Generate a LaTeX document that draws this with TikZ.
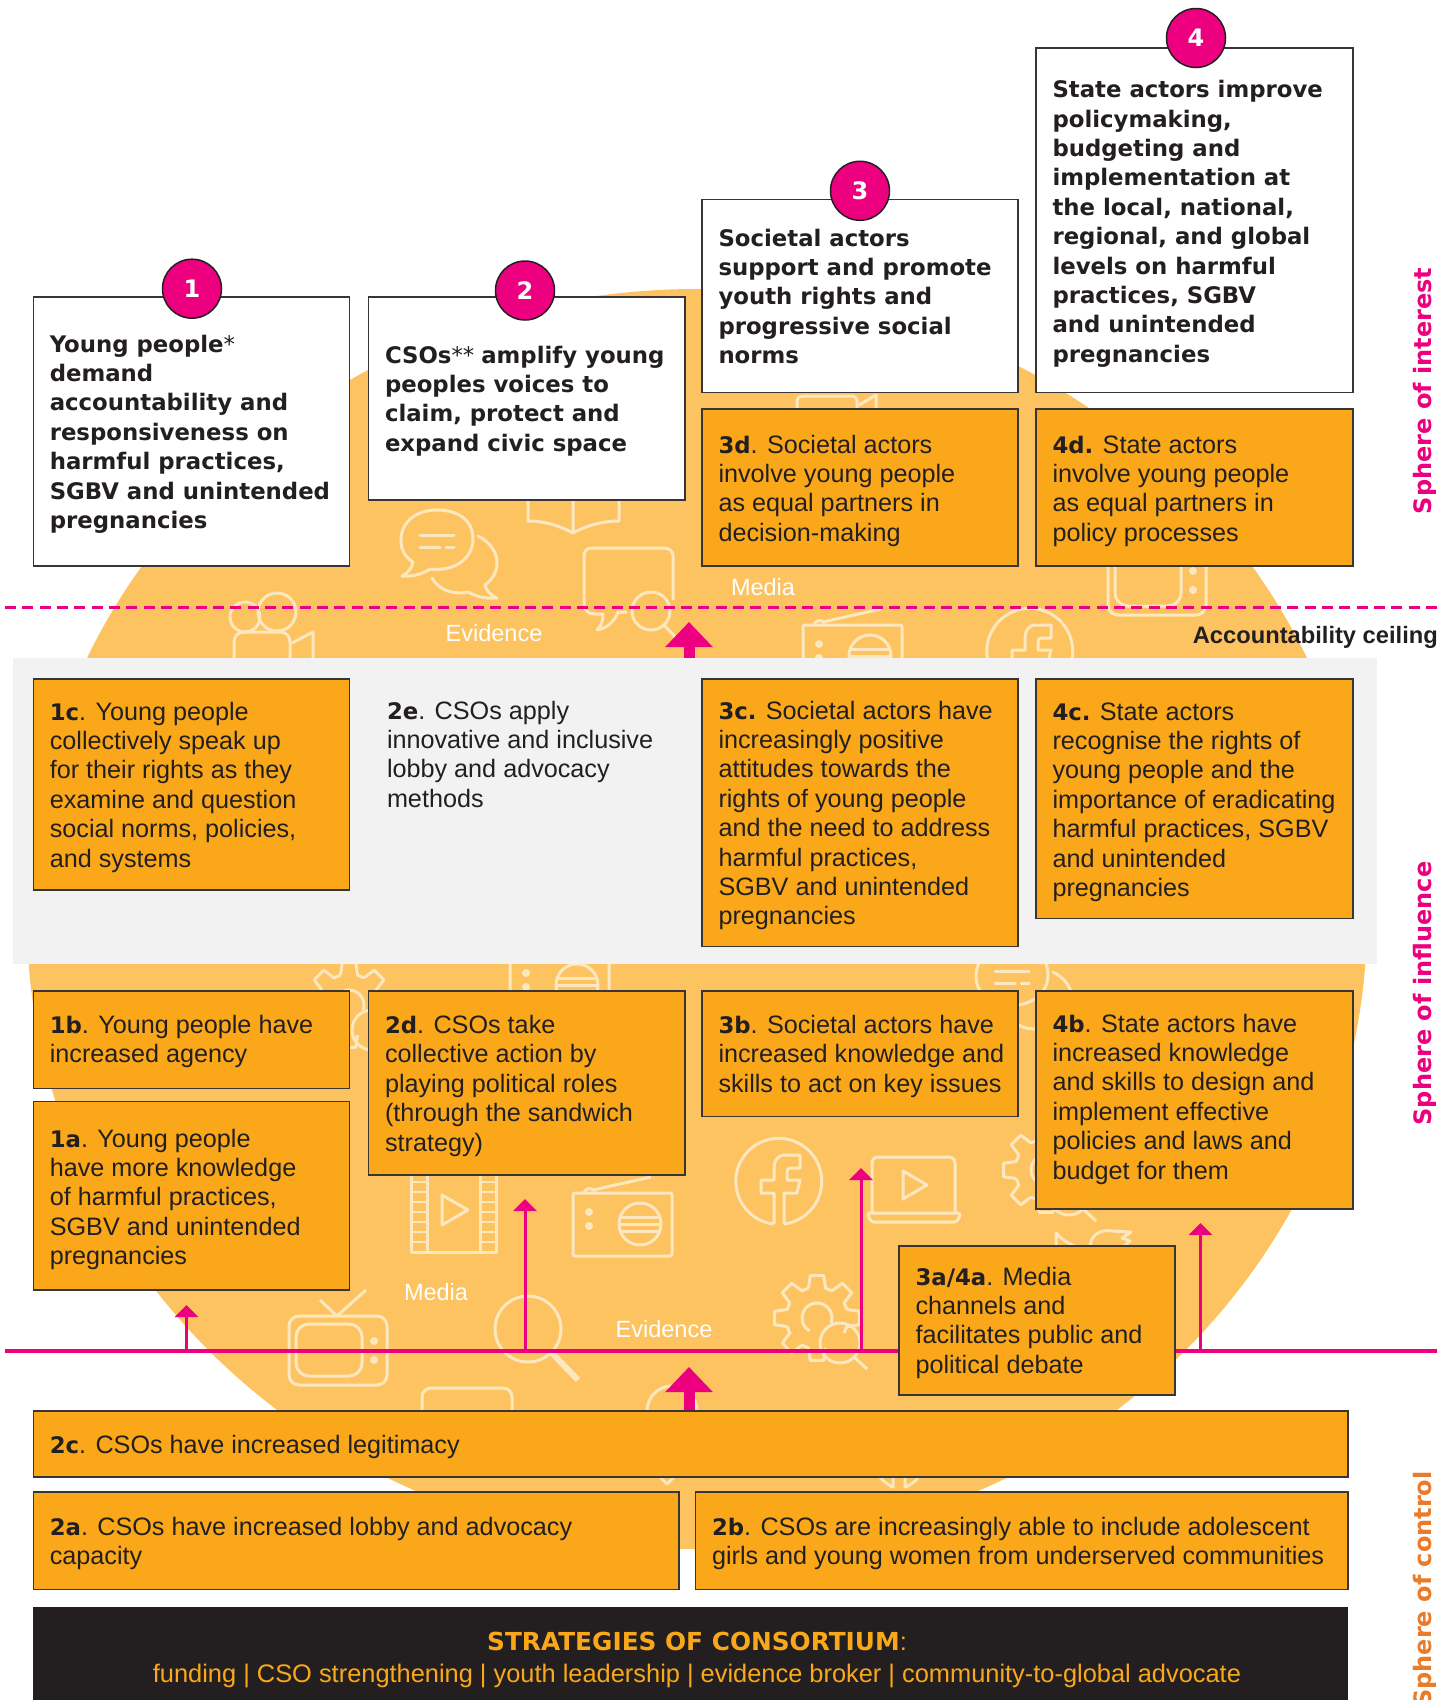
\documentclass[tikz,border=0pt]{standalone}
\usepackage{fontspec}
\usetikzlibrary{arrows.meta}
\setmainfont{Liberation Sans}
\newfontfamily\vb{DejaVu Sans Bold}
\newfontfamily\vr{DejaVu Sans}
\definecolor{ochre}{HTML}{FDC360}
\definecolor{icon}{HTML}{FDE7BF}
\definecolor{amber}{HTML}{FAA819}
\definecolor{ink}{HTML}{231F20}
\definecolor{pink}{HTML}{EC0080}
\definecolor{ctrl}{HTML}{E97B2A}
\newcommand{\bo}[1]{{\vb\fontsize{22.8}{29.4}\selectfont #1}}
\newcommand{\st}[1]{{\vr\fontsize{22.8}{29.4}\selectfont #1}}
\newcommand{\bx}[8]{%
  \pgfmathsetmacro{\bw}{#4-#2}\pgfmathsetmacro{\bh}{#5-#3}%
  \node[#6,anchor=north west,minimum width=\bw pt,minimum height=\bh pt] (#1) at (#2,#3) {};
  \node[txt,anchor=north west] (#1t) at ({#2+16.5},{#7-22}) {\rule{0pt}{22pt}#8};
}
\tikzset{
  okbox/.style={draw=ink!90,line width=1.6pt,fill=white,inner sep=0pt,outer sep=0pt},
  ambox/.style={draw=ink!90,line width=1.6pt,fill=amber,inner sep=0pt,outer sep=0pt},
  txt/.style={inner sep=0pt,outer sep=0pt,align=left,text=ink,font=\fontsize{25.2}{29.4}\selectfont},
  wtxt/.style={inner sep=0pt,text=white,font=\fontsize{23.5}{28}\selectfont},
  badge/.style={circle,draw=ink,line width=1.5pt,fill=pink,minimum size=59pt,inner sep=0pt,text=white,font=\vb\fontsize{24}{28}\selectfont},
  sphere/.style={rotate=90,inner sep=0pt,font=\vb\fontsize{24}{30}\selectfont},
  ic/.style={draw=icon,line width=3pt,line join=round},
  thin arrow/.style={draw=pink,line width=3pt,-{Triangle[width=23pt,length=12pt]}},
  fat arrow/.style={draw=pink,line width=11pt,-{Triangle[width=46pt,length=25pt]}},
  bubbleicon/.pic={
    \draw[ic] (-7,30) .. controls (18,33) and (36,19) .. (36,0) .. controls (36,-19) and (21,-29) .. (0,-29) .. controls (-21,-29) and (-36,-17) .. (-36,1) .. controls (-36,11) and (-32,18) .. (-24,23) .. controls (-25,29) and (-29,34) .. (-35,37) .. controls (-25,38) and (-14,35) .. (-7,30);
    \draw[ic,line cap=round] (-17,-4) -- (17,-4) (-17,8) -- (3,8) (9,8) -- (17,8);
    \draw[ic,line cap=round] (41,-3) .. controls (53,3) and (60,13) .. (60,24) .. controls (60,33) and (55,41) .. (48,46) .. controls (49,51) and (53,56) .. (60,59) .. controls (50,60) and (40,58) .. (31,53) .. controls (15,56) and (2,51) .. (-5,39);
  },
  fbicon/.pic={
    \draw[ic] (5,43) arc[start angle=83,end angle=-263,radius=43];
    \draw[ic] (-5,43) -- (-5,12) -- (-18,12) -- (-18,-1) -- (-5,-1) -- (-5,-9) .. controls (-5,-20) and (-3,-26) .. (7,-26) -- (21,-26) -- (21,-13) -- (13,-13) .. controls (9,-13) and (8,-12) .. (8,-9) -- (8,-1) -- (21,-1) -- (18,12) -- (5,12) -- (5,43);
  },
  radioicon/.pic={
    \draw[ic,rounded corners=2pt] (0,0) rectangle (99,63);
    \draw[ic] (67,31) circle[radius=21];
    \draw[ic] (47,24) -- (87,24) (46,31) -- (88,31) (47,38) -- (87,38);
    \fill[icon] (16,19) circle[radius=4] (16,33) circle[radius=4];
    \draw[ic] (20,-3) -- (78,-16);
    \draw[ic] (11,0) .. controls (12,-5) and (18,-6) .. (22,-2);
  },
  tvicon/.pic={
    \draw[ic,rounded corners=10pt] (0,0) rectangle (98,69);
    \draw[ic,rounded corners=13pt] (7,8) rectangle (73,60);
    \fill[icon] (85,25) circle[radius=4] (85,44) circle[radius=4];
    \draw[ic] (31,-16) -- (48,0) -- (77,-26);
  },
  gearicon/.pic={
    \foreach \a in {0,-45,-90,-135,180,135,90} {
      \draw[ic] (\a-16:31) -- (\a-9:43) -- (\a+9:43) -- (\a+16:31) -- (\a+29:31);
    }
    \draw[ic] (20:15) arc[start angle=20,end angle=-240,radius=15];
    \draw[ic] (23,25) circle[radius=20];
    \draw[ic] (37,39) -- (50,51);
  },
}
\begin{document}
\begin{tikzpicture}[x=1pt,y=-1pt]
\useasboundingbox (0,0) rectangle (1454,1700);
% background ellipse
\fill[ochre] (697,919) ellipse[x radius=670,y radius=630];
% icons
\pic at (437,539) {bubbleicon};
\pic at (1012,975) {bubbleicon};
\draw[ic] (528,490) -- (528,521) .. controls (545,521) and (560,526) .. (573,533) .. controls (586,526) and (601,521) .. (619,521) -- (619,490) (573,490) -- (573,533);
\draw[ic] (627,612) -- (618,612) .. controls (614,622) and (607,628) .. (597,630) .. controls (602,625) and (603,620) .. (603,614) -- (595,614) .. controls (588,614) and (584,610) .. (584,604) -- (584,556) .. controls (584,551) and (587,548) .. (592,548) -- (664,548) .. controls (669,548) and (673,551) .. (673,556) -- (673,600);
\draw[ic] (651,611) circle[radius=19];
\draw[ic] (664,625) -- (680,642);
\draw[ic] (245,617) circle[radius=15];
\draw[ic] (277,612) circle[radius=19];
\draw[ic] (234,660) -- (234,642) .. controls (234,636) and (238,632) .. (244,632) -- (280,632) .. controls (286,632) and (290,636) .. (290,642) -- (290,660);
\draw[ic] (292,643) -- (313,632) -- (313,660);
\draw[ic] (797,410) -- (797,401) .. controls (797,398) and (799,396) .. (802,396) -- (852,396) .. controls (855,396) and (857,398) .. (857,401) -- (857,410);
\draw[ic] (859,405) -- (876,395) -- (876,410);
\pic at (803,625) {radioicon};
\pic at (1030,651) {fbicon};
\pic at (1108,546) {tvicon};
\pic at (349,1005) {gearicon};
\pic at (510,954) {radioicon};
\draw[ic] (411,1170) rectangle (496,1252);
\draw[ic] (427,1170) -- (427,1252) (480,1170) -- (480,1252);
\foreach \yy in {1182,1192,...,1242} { \draw[icon,line width=2.6pt] (411,\yy) -- (427,\yy) (480,\yy) -- (496,\yy); }
\draw[ic] (442,1195) -- (468,1210) -- (442,1225) -- cycle;
\pic at (573,1193) {radioicon};
\pic at (779,1181) {fbicon};
\draw[ic,rounded corners=6pt] (872,1212) -- (872,1157) -- (955,1157) -- (955,1212);
\draw[ic,rounded corners=3pt] (867,1213) -- (961,1213) -- (957,1222) -- (871,1222) -- cycle;
\draw[ic] (903,1171) -- (927,1185) -- (903,1199) -- cycle;
\pic at (817,1318) {gearicon};
\pic at (1046,1170) {gearicon};
\draw[ic] (1056,1248) -- (1056,1233) .. controls (1062,1240) and (1070,1244) .. (1076,1247);
\draw[ic] (1090,1248) .. controls (1090,1235) and (1100,1229) .. (1112,1231) -- (1131,1232) -- (1122,1238) -- (1130,1241) -- (1122,1248);
\pic at (289,1316) {tvicon};
\draw[ic] (528,1329) circle[radius=33];
\draw[icon,line width=6pt] (551,1352) -- (578,1380);
\draw[ic,rounded corners=9pt] (422,1415) -- (422,1388) -- (512,1388) -- (512,1415);
\draw[ic] (672,1411) circle[radius=25];
\draw[ic] (659,1476) -- (667,1484) -- (675,1476);
\draw[ic] (879,1476) .. controls (883,1481) and (888,1485) .. (893,1487) -- (893,1476) (905,1476) -- (905,1487) .. controls (911,1485) and (916,1481) .. (919,1476);
% grey band
\fill[black!5] (13,658.3) rectangle (1377,963.8);
% white labels
\node[wtxt] (mediaA) at (763,587) {Media};
\node[wtxt] (evA) at (494,633) {Evidence};
\node[wtxt] (mediaB) at (436,1292) {Media};
\node[wtxt] (evB) at (664,1329) {Evidence};
% ceiling and base lines
\coordinate (ceilL) at (5,607.3);
\coordinate (ceilR) at (1437,607.3);
\draw[pink,line width=3.6pt,dash pattern=on 11pt off 6.33pt] (ceilL) -- (ceilR);
\node[anchor=base east,inner sep=0pt,text=ink,font=\fontsize{23.7}{28}\selectfont\bfseries] (ceil) at (1438,643) {Accountability ceiling};
\coordinate (baseL) at (5,1351);
\coordinate (baseR) at (1437,1351);
\draw[pink,line width=3.2pt] (baseL) -- (baseR);
% arrows
\coordinate (a1s) at (186.5,1351); \coordinate (a1e) at (186.5,1305);
\coordinate (a2s) at (525,1351); \coordinate (a2e) at (525,1199);
\coordinate (a3s) at (861,1351); \coordinate (a3e) at (861,1168);
\coordinate (a4s) at (1200.5,1351); \coordinate (a4e) at (1200.5,1223);
\draw[thin arrow] (a1s) -- (a1e);
\draw[thin arrow] (a2s) -- (a2e);
\draw[thin arrow] (a3s) -- (a3e);
\draw[thin arrow] (a4s) -- (a4e);
\coordinate (f1s) at (689,658.3); \coordinate (f1e) at (689,622);
\coordinate (f2s) at (689,1411); \coordinate (f2e) at (689,1367);
\draw[fat arrow] (f1s) -- (f1e);
\draw[fat arrow] (f2s) -- (f2e);
% outcome boxes
\bx{b1}{33.3}{296.7}{349.3}{566}{okbox}{352}{\bo{Young people}\st{*}\\\bo{demand}\\\bo{accountability and}\\\bo{responsiveness on}\\\bo{harmful practices,}\\\bo{SGBV and unintended}\\\bo{pregnancies}}
\bx{b2}{368.5}{296.7}{685}{500}{okbox}{363}{\bo{CSOs}\st{**}\ \bo{amplify young}\\\bo{peoples voices to}\\\bo{claim, protect and}\\\bo{expand civic space}}
\bx{b3}{702}{199.5}{1018}{392.5}{okbox}{246}{\bo{Societal actors}\\\bo{support and promote}\\\bo{youth rights and}\\\bo{progressive social}\\\bo{norms}}
\bx{b4}{1036}{47.7}{1352.7}{392.5}{okbox}{97.6}{\bo{State actors improve}\\\bo{policymaking,}\\\bo{budgeting and}\\\bo{implementation at}\\\bo{the local, national,}\\\bo{regional, and global}\\\bo{levels on harmful}\\\bo{practices, SGBV}\\\bo{and unintended}\\\bo{pregnancies}}
\bx{d3}{702}{408.7}{1018}{566}{ambox}{453}{\bo{3d}. Societal actors\\involve young people\\as equal partners in\\decision-making}
\bx{d4}{1036}{408.7}{1352.7}{566}{ambox}{453}{\bo{4d.} State actors\\involve young people\\as equal partners in\\policy processes}
\bx{c1}{33.3}{679}{349.3}{890}{ambox}{720}{\bo{1c}. Young people\\collectively speak up\\for their rights as they\\examine and question\\social norms, policies,\\and systems}
\node[txt,anchor=north west] (e2) at (387,697) {\rule{0pt}{22pt}\bo{2e}. CSOs apply\\innovative and inclusive\\lobby and advocacy\\methods};
\bx{c3}{702}{679}{1018}{946.5}{ambox}{719}{\bo{3c.} Societal actors have\\increasingly positive\\attitudes towards the\\rights of young people\\and the need to address\\harmful practices,\\SGBV and unintended\\pregnancies}
\bx{c4}{1036}{679}{1352.7}{918.3}{ambox}{720}{\bo{4c.} State actors\\recognise the rights of\\young people and the\\importance of eradicating\\harmful practices, SGBV\\and unintended\\pregnancies}
\bx{b1b}{33.3}{991}{349.3}{1088.5}{ambox}{1033.5}{\bo{1b}. Young people have\\increased agency}
\bx{a1}{33.3}{1101.5}{349.3}{1290}{ambox}{1147}{\bo{1a}. Young people\\have more knowledge\\of harmful practices,\\SGBV and unintended\\pregnancies}
\bx{d2}{368.5}{991}{685}{1175}{ambox}{1033.5}{\bo{2d}. CSOs take\\collective action by\\playing political roles\\(through the sandwich\\strategy)}
\bx{b3b}{702}{991}{1018}{1116.5}{ambox}{1033.5}{\bo{3b}. Societal actors have\\increased knowledge and\\skills to act on key issues}
\bx{b4b}{1036}{991}{1352.7}{1209}{ambox}{1032}{\bo{4b}. State actors have\\increased knowledge\\and skills to design and\\implement effective\\policies and laws and\\budget for them}
\bx{a34}{899}{1245.7}{1174.7}{1394.7}{ambox}{1285}{\bo{3a/4a}. Media\\channels and\\facilitates public and\\political debate}
\bx{c2}{33.3}{1410.7}{1347.7}{1476.7}{ambox}{1453}{\bo{2c}. CSOs have increased legitimacy}
\bx{a2}{33.3}{1492}{678.7}{1589.5}{ambox}{1535}{\bo{2a}. CSOs have increased lobby and advocacy\\capacity}
\bx{b2b}{695.5}{1492}{1347.7}{1589.5}{ambox}{1535}{\bo{2b}. CSOs are increasingly able to include adolescent\\girls and young women from underserved communities}
% strategies
\fill[ink] (33.3,1606.7) rectangle (1347.7,1700);
\node[anchor=base,inner sep=0pt,text=amber,font=\fontsize{25.4}{29.4}\selectfont] (s1) at (697,1650) {{\vb\fontsize{24.8}{29}\selectfont STRATEGIES OF CONSORTIUM}:};
\node[anchor=base,inner sep=0pt,text=amber,font=\fontsize{25.4}{29.4}\selectfont] (s2) at (697,1682) {funding | CSO strengthening | youth leadership | evidence broker | community-to-global advocate};
% badges
\node[badge] (n1) at (192,288.7) {1};
\node[badge] (n2) at (525,290.5) {2};
\node[badge] (n3) at (860,190.8) {3};
\node[badge] (n4) at (1196,38) {4};
% sphere labels
\node[sphere,text=pink] (si) at (1425,391) {Sphere of interest};
\node[sphere,text=pink] (sf) at (1425,993.5) {Sphere of influence};
\node[sphere,text=ctrl] (sc) at (1425,1589) {Sphere of control};
\end{tikzpicture}
\end{document}
